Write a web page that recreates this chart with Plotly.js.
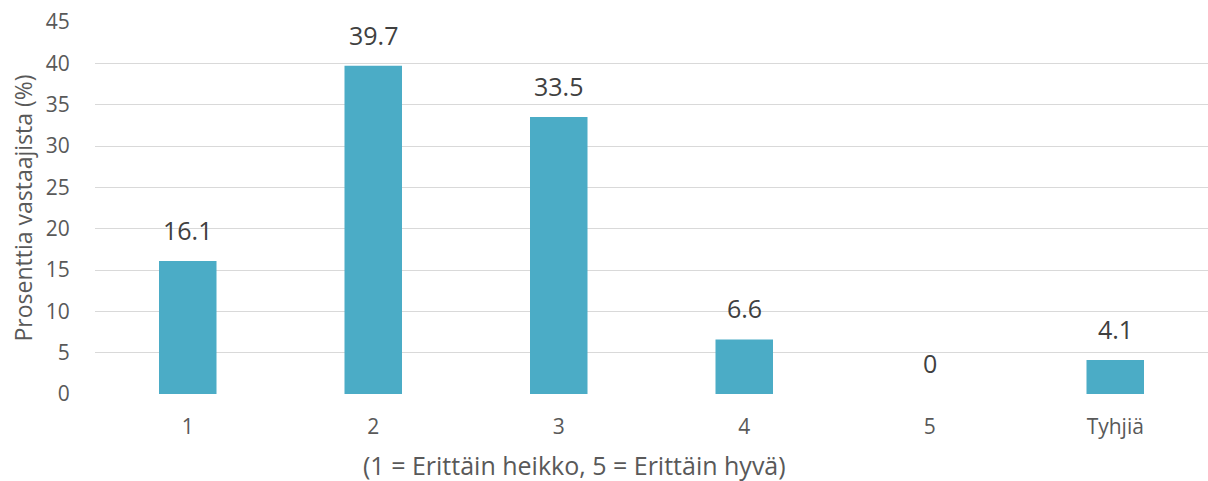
<!DOCTYPE html>
<html>
<head>
<meta charset="utf-8">
<script src="https://cdn.plot.ly/plotly-3.0.1.min.js"></script>
<style>
  html, body { margin: 0; padding: 0; background: #fff; }
  #chart { width: 1208px; height: 481px; }
</style>
</head>
<body>
<div id="chart"></div>
<script>
const categories = ["1", "2", "3", "4", "5", "Tyhjiä"];
const percentages = [16.1, 39.7, 33.5, 6.6, 0, 4.1];
const yTicks = [0, 5, 10, 15, 20, 25, 30, 35, 40, 45];
const xTitle = "(1 = Erittäin heikko, 5 = Erittäin hyvä)";

const font = "'Open Sans', 'DejaVu Sans', sans-serif";

// value labels sit a bit higher than plotly's own outside text, so use annotations
// (x given as category index, a string like "1" gets read as a position)
const labels = categories.map((c, i) => ({
    x: i,
    y: percentages[i],
    xref: "x",
    yref: "y",
    text: String(percentages[i]),
    showarrow: false,
    yanchor: "bottom",
    yshift: 12,
    font: {family: font, size: 25, color: "#404040"}
}));

// x title is not centred on the plot in the original, so place it by hand
labels.push({
    x: 0.431,
    y: -0.19,
    xref: "paper",
    yref: "paper",
    xanchor: "center",
    yanchor: "middle",
    text: xTitle,
    showarrow: false,
    font: {family: font, size: 25, color: "#595959"}
});

Plotly.newPlot("chart", [{
    type: "bar",
    x: categories,
    y: percentages,
    marker: {color: "#4bacc6"},
    hoverinfo: "x+y"
}], {
    width: 1208,
    height: 481,
    margin: {l: 95, r: 0, t: 22, b: 87},
    bargap: 0.69,
    showlegend: false,
    paper_bgcolor: "#ffffff",
    plot_bgcolor: "#ffffff",
    font: {family: font, color: "#595959"},
    xaxis: {
        type: "category",
        range: [-0.5, 5.5],
        showgrid: false,
        zeroline: false,
        showline: false,
        ticks: "outside",
        ticklen: 14,
        tickcolor: "rgba(0,0,0,0)",
        tickfont: {size: 21, color: "#595959"}
    },
    yaxis: {
        range: [0, 45],
        tickvals: yTicks,
        showgrid: true,
        gridcolor: "#d9d9d9",
        gridwidth: 1,
        zeroline: false,
        showline: false,
        ticks: "outside",
        ticklen: 20,
        tickcolor: "rgba(0,0,0,0)",
        tickfont: {size: 21, color: "#595959"},
        title: {
            text: "Prosenttia vastaajista (%)",
            font: {size: 23, color: "#595959"},
            standoff: 6
        }
    },
    annotations: labels
}, {displayModeBar: false, staticPlot: true});
</script>
</body>
</html>
